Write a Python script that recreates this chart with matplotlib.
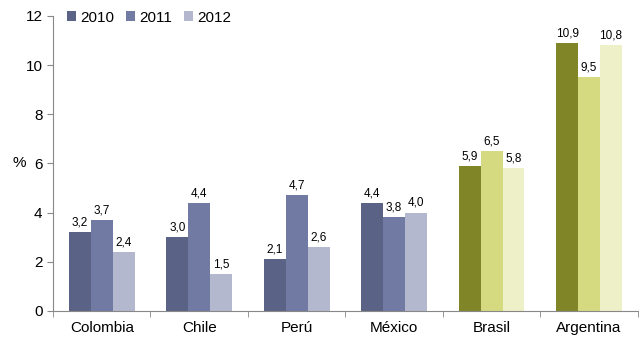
import numpy as np
import matplotlib.pyplot as plt

plt.rcParams['font.family'] = ['Liberation Sans', 'DejaVu Sans']

countries = ['Colombia', 'Chile', 'Perú', 'México', 'Brasil', 'Argentina']
years = ['2010', '2011', '2012']
v2010 = [3.2, 3.0, 2.1, 4.4, 5.9, 10.9]
v2011 = [3.7, 4.4, 4.7, 3.8, 6.5, 9.5]
v2012 = [2.4, 1.5, 2.6, 4.0, 5.8, 10.8]

blue = ['#5a6385', '#717aa3', '#b4b8cf']
green = ['#808628', '#d5da80', '#eef0c8']

fig = plt.figure(figsize=(6.39, 3.39), dpi=100)
ax = fig.add_axes([0.083, 0.083, 0.915, 0.87])

x = np.arange(len(countries))
w = 0.225
series = [v2010, v2011, v2012]
for j, vals in enumerate(series):
    cols = [blue[j] if i < 4 else green[j] for i in range(len(countries))]
    bars = ax.bar(x + (j - 1) * w, vals, w, color=cols, label=years[j])
    for b, v in zip(bars, vals):
        ax.text(b.get_x() + b.get_width() / 2, v + 0.15, f'{v:.1f}'.replace('.', ','),
                ha='center', va='bottom', fontsize=8.5)

ax.set_xlim(-0.5, len(countries) - 0.5)
ax.set_ylim(0, 12)
ax.set_yticks(range(0, 13, 2))
ax.set_xticks(x)
ax.set_xticklabels(countries, fontsize=11)
ax.set_xticks(np.arange(-0.5, len(countries), 1), minor=True)
ax.tick_params(axis='x', which='major', length=0, pad=7)
ax.tick_params(axis='x', which='minor', length=4, color='#888888', direction='out')
ax.tick_params(axis='y', labelsize=11, length=4, color='#888888')
for s in ['top', 'right']:
    ax.spines[s].set_visible(False)
ax.spines['left'].set_color('#888888')
ax.spines['bottom'].set_color('#888888')
ax.set_ylabel('%', rotation=0, fontsize=11, va='center')
ax.yaxis.set_label_coords(-0.057, 0.5)

leg = ax.legend(loc='upper left', bbox_to_anchor=(0.0, 1.065), ncol=3, frameon=False,
                fontsize=11, handlelength=0.6, handleheight=0.6, handletextpad=0.25,
                columnspacing=0.8)

fig.savefig('out.png', dpi=100)
